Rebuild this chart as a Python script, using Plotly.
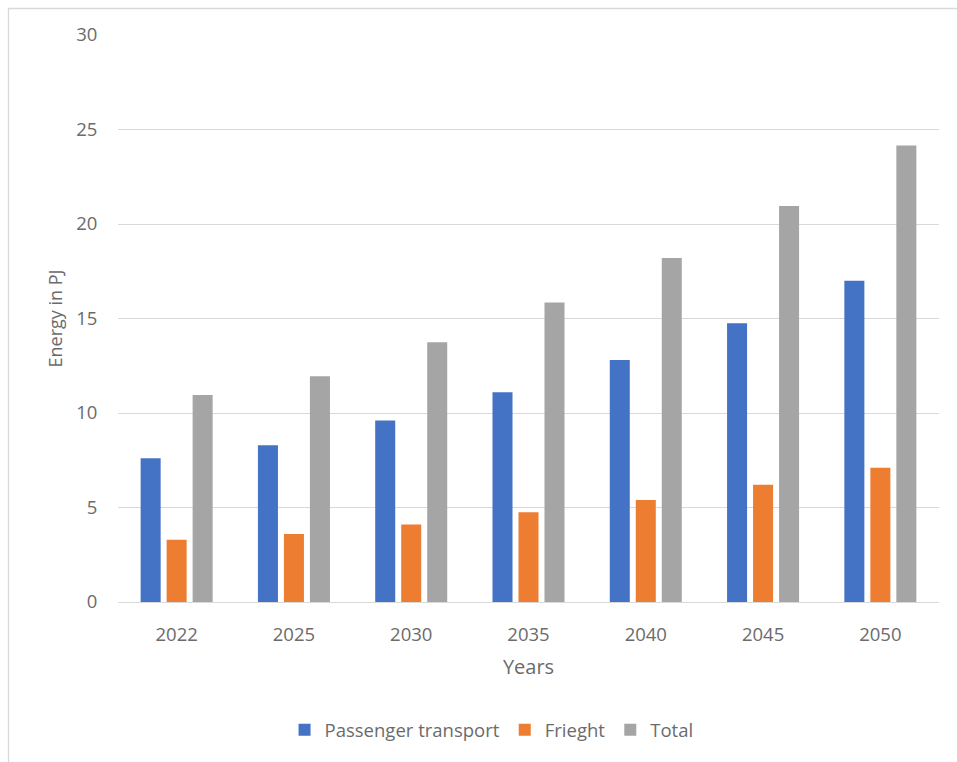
import plotly.graph_objects as go

years = ["2022", "2025", "2030", "2035", "2040", "2045", "2050"]
passenger = [7.6, 8.3, 9.6, 11.1, 12.8, 14.75, 17.0]
freight = [3.3, 3.6, 4.1, 4.75, 5.4, 6.2, 7.1]
total = [10.95, 11.95, 13.75, 15.85, 18.2, 20.95, 24.15]

series = [
    ("Passenger transport", passenger, "#4472C4"),
    ("Frieght", freight, "#ED7D31"),
    ("Total", total, "#A5A5A5"),
]

FONT = "Open Sans"
TXT = "#6b6b6b"

fig = go.Figure()
for name, vals, col in series:
    fig.add_trace(go.Bar(x=years, y=vals, name=name, marker=dict(color=col, line=dict(width=0))))

fig.update_layout(
    width=957, height=762,
    margin=dict(l=118, r=18, t=35, b=160),
    paper_bgcolor="white", plot_bgcolor="white",
    barmode="group", bargap=0.335, bargroupgap=0.23,
    font=dict(family=FONT, size=18, color=TXT),
    showlegend=True,
    legend=dict(orientation="h", x=0.455, xanchor="center", y=-0.226, yanchor="middle",
                font=dict(size=18.5, color=TXT), itemwidth=30, traceorder="normal"),
    xaxis=dict(
        title=dict(text="Years", font=dict(size=20, color=TXT), standoff=14),
        showgrid=False, showline=True, linecolor="#D9D9D9", linewidth=1.3,
        ticks="outside", ticklen=16, tickcolor="rgba(0,0,0,0)",
        tickfont=dict(size=18.5, color=TXT),
    ),
    yaxis=dict(
        title=dict(text="Energy in PJ", font=dict(size=18, color=TXT), standoff=8),
        range=[0, 30], dtick=5, showgrid=True, gridcolor="#D9D9D9", gridwidth=1.3,
        zeroline=False, showline=False,
        ticks="outside", ticklen=16, tickcolor="rgba(0,0,0,0)",
        tickfont=dict(size=18.5, color=TXT),
    ),
    shapes=[dict(type="rect", xref="paper", yref="paper",
                 x0=(8.5 - 118) / 821, x1=1.2, y0=-0.4, y1=1 + (35 - 8.5) / 567,
                 line=dict(color="#D9D9D9", width=1.3), fillcolor="rgba(0,0,0,0)", layer="below")],
)

fig.write_html("out.html")
